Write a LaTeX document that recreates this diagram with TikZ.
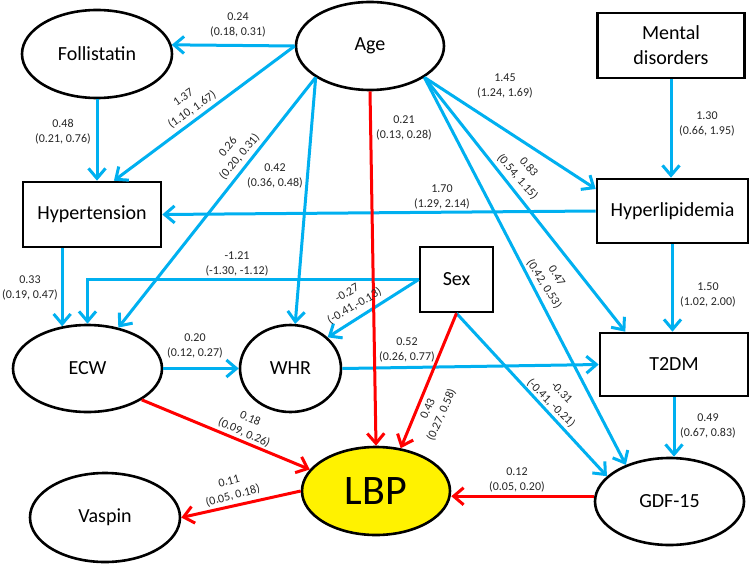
\documentclass[tikz,border=0pt]{standalone}
\usepackage{fontspec}
\setmainfont{Carlito}
\usetikzlibrary{arrows.meta,shapes.geometric}
\definecolor{ablue}{RGB}{0,176,240}
\begin{document}
\begin{tikzpicture}[x=1pt,y=-1pt,
  ell/.style={ellipse,draw,line width=2.6pt,fill=white,inner sep=0pt,font=\fontsize{20}{25}\selectfont},
  box/.style={rectangle,draw,line width=2.6pt,fill=white,inner sep=0pt,align=center,font=\fontsize{20}{25}\selectfont},
  bl/.style={draw=ablue,line width=3pt,-{Straight Barb[length=10pt,width=17pt]}},
  rd/.style={draw=red,line width=3pt,-{Straight Barb[length=10pt,width=17pt]}},
  lab/.style={font=\fontsize{12}{15}\selectfont,align=center,inner sep=0pt,text=black!85}]
\fill[white] (0,0) rectangle (751,564);
\useasboundingbox (0,0) rectangle (751,564);
% nodes
\node[ell,minimum width=150pt,minimum height=88pt] (fol) at (97,54) {Follistatin};
\node[ell,minimum width=148pt,minimum height=88pt] (age) at (370,46) {Age};
\node[box,minimum width=147pt,minimum height=65pt] (ment) at (671,45.5) {Mental\\disorders};
\node[box,minimum width=138pt,minimum height=65pt] (hyt) at (92,214.5) {Hypertension};
\node[box,minimum width=151pt,minimum height=64pt] (hyl) at (672.5,211) {Hyperlipidemia};
\node[box,minimum width=73pt,minimum height=65pt] (sex) at (456.5,279.5) {Sex};
\node[box,minimum width=148pt,minimum height=63pt] (t2) at (674,364.5) {T2DM};
\node[ell,minimum width=149pt,minimum height=87pt] (ecw) at (87.5,368.5) {ECW};
\node[ell,minimum width=101pt,minimum height=87pt] (whr) at (290.5,368.5) {WHR};
\node[ell,minimum width=148pt,minimum height=88pt,fill=yellow,font=\fontsize{42}{48}\selectfont] (lbp) at (376,491) {LBP};
\node[ell,minimum width=150pt,minimum height=89pt] (vas) at (105,517.5) {Vaspin};
\node[ell,minimum width=149pt,minimum height=87pt] (gdf) at (669.5,501.5) {GDF-15};
% connectors
\draw[bl] (age.west) -- (fol.7);
\draw[bl] (age.west) -- (hyt.57);
\draw[bl] (fol.south) -- (fol.south |- hyt.north);
\draw[bl] (age.210) -- (ecw.53);
\draw[bl] (age.210) -- (whr.84);
\draw[bl] (age.-30) -- (hyl.164);
\draw[bl] (age.-30) -- (t2.146);
\draw[bl] (age.-30) -- (gdf.140);
\draw[bl] (ment.south) -- (ment.south |- hyl.north);
\draw[bl] (hyl.west) -- (hyt.east);
\draw[bl] (hyl.south) -- (hyl.south |- t2.north);
\draw[bl] (ecw.121 |- hyt.south) -- (ecw.121);
\draw[bl] (sex.west) -| (ecw.north);
\draw[bl] (sex.west) -- (whr.40);
\draw[bl] (sex.south) -- (gdf.158);
\draw[bl] (ecw.east) -- (whr.west);
\draw[bl] (whr.east) -- (t2.west);
\draw[bl] (t2.south) -- (t2.south |- gdf.north);
\draw[rd] (age.south) -- (lbp.north);
\draw[rd] (sex.south) -- (lbp.60);
\draw[rd] (ecw.-30) -- (lbp.162);
\draw[rd] (lbp.west) -- (vas.east);
\draw[rd] (gdf.176) -- (gdf.176 -| lbp.east);
% labels
\node[lab] (l1) at (238,25) {0.24\\(0.18, 0.31)};
\node[lab,rotate=35] (l2) at (188,104) {1.37\\(1.10, 1.67)};
\node[lab] (l3) at (63,132) {0.48\\(0.21, 0.76)};
\node[lab,rotate=50] (l4) at (234,152) {0.26\\(0.20, 0.31)};
\node[lab] (l5) at (275,176) {0.42\\(0.36, 0.48)};
\node[lab] (l6) at (404,128) {0.21\\(0.13, 0.28)};
\node[lab] (l7) at (505,86) {1.45\\(1.24, 1.69)};
\node[lab,rotate=-49] (l8) at (523,172) {0.83\\(0.54, 1.15)};
\node[lab,rotate=-58] (l9) at (550,280) {0.47\\(0.42, 0.53)};
\node[lab] (l10) at (707,124) {1.30\\(0.66, 1.95)};
\node[lab] (l11) at (442,197) {1.70\\(1.29, 2.14)};
\node[lab] (l12) at (708,295) {1.50\\(1.02, 2.00)};
\node[lab] (l13) at (30,288) {0.33\\(0.19, 0.47)};
\node[lab] (l14) at (237,264) {-1.21\\(-1.30, -1.12)};
\node[lab,rotate=30] (l15) at (351,300) {-0.27\\(-0.41,-0.13)};
\node[lab,rotate=66] (l16) at (435,412) {0.43\\(0.27, 0.58)};
\node[lab,rotate=-45] (l17) at (556,398) {-0.31\\(-0.41, -0.21)};
\node[lab] (l18) at (195,346) {0.20\\(0.12, 0.27)};
\node[lab] (l19) at (407,350) {0.52\\(0.26, 0.77)};
\node[lab,rotate=-24] (l20) at (247,426) {0.18\\(0.09, 0.26)};
\node[lab,rotate=15] (l21) at (231,489) {0.11\\(0.05, 0.18)};
\node[lab] (l22) at (517,480) {0.12\\(0.05, 0.20)};
\node[lab] (l23) at (708,426) {0.49\\(0.67, 0.83)};
\end{tikzpicture}
\end{document}
